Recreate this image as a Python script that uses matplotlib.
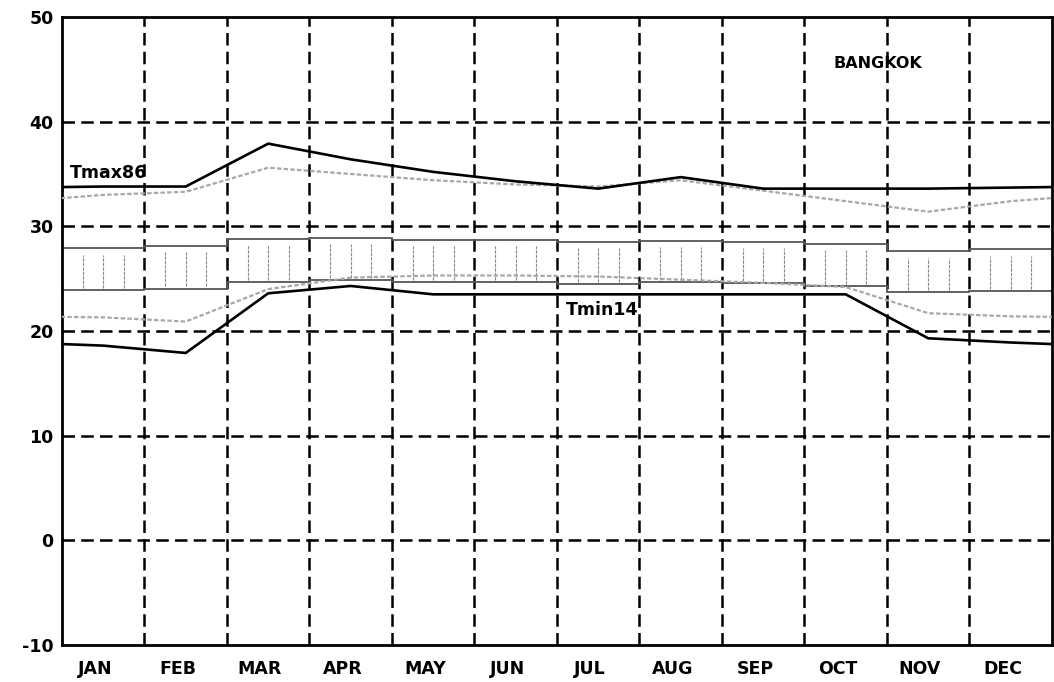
"""
Bangkok monthly temperature chart
"""

import matplotlib.pyplot as plt
import numpy as np

plt.rcParams["axes.unicode_minus"] = False

months = ["JAN", "FEB", "MAR", "APR", "MAY", "JUN",
          "JUL", "AUG", "SEP", "OCT", "NOV", "DEC"]

# black curves
tmax86 = [33.8, 33.8, 37.9, 36.4, 35.2, 34.3, 33.6, 34.7, 33.6, 33.6, 33.6, 33.7]
tmin14 = [18.6, 17.9, 23.6, 24.3, 23.5, 23.5, 23.5, 23.5, 23.5, 23.5, 19.3, 18.9]

# grey curves
grey_upper = [33.0, 33.3, 35.6, 35.0, 34.4, 34.0, 33.8, 34.4, 33.4, 32.4, 31.4, 32.4]
grey_lower = [21.3, 20.9, 24.0, 25.1, 25.3, 25.3, 25.2, 24.9, 24.6, 24.2, 21.7, 21.4]

# hatched band, per month
band_top = [27.9, 28.1, 28.8, 28.9, 28.7, 28.7, 28.5, 28.6, 28.5, 28.3, 27.6, 27.8]
band_bot = [23.9, 24.05, 24.7, 24.9, 24.7, 24.7, 24.5, 24.7, 24.6, 24.3, 23.7, 23.8]


def cyclic(values):
    # wrap Dec/Jan around so the curve runs to both edges
    centers = np.arange(12) + 0.5
    xs = np.r_[-0.5, centers, 12.5]
    ys = np.r_[values[-1], values, values[0]]
    return xs, ys


fig = plt.figure(figsize=(10.54, 6.82), dpi=100)
ax = fig.add_axes([0.0588, 0.0543, 0.9393, 0.9208])

# grid
for y in [0, 10, 20, 30, 40]:
    ax.axhline(y, color="black", lw=1.8, ls=(0, (5, 2.5)), zorder=1)
for m in range(1, 12):
    ax.axvline(m, color="black", lw=1.8, ls=(0, (5, 2.5)), zorder=1)

# band
edges = np.arange(13)
ax.stairs(band_top, edges, color="#555555", lw=1.3, baseline=None, zorder=2)
ax.stairs(band_bot, edges, color="#555555", lw=1.3, baseline=None, zorder=2)
for i in range(12):
    for f in [0.25, 0.5, 0.75]:
        ax.vlines(i + f, band_bot[i] + 0.2, band_top[i] - 0.6,
                  color="#8a8a8a", lw=0.8, ls=(0, (3, 1)), zorder=2)

# grey curves
for vals in [grey_upper, grey_lower]:
    xs, ys = cyclic(vals)
    ax.plot(xs, ys, color="#a8a8a8", lw=1.6, ls=(0, (2, 1)), zorder=3)

# black curves
for vals in [tmax86, tmin14]:
    xs, ys = cyclic(vals)
    ax.plot(xs, ys, color="black", lw=1.9, zorder=4)

ax.text(0.1, 34.2, "Tmax86", fontsize=12.5, fontweight="bold", ha="left", va="bottom")
ax.text(6.11, 22.0, "Tmin14", fontsize=12.5, fontweight="bold", ha="left", va="center")
ax.text(9.35, 45.6, "BANGKOK", fontsize=11.5, fontweight="bold", ha="left", va="center")

ax.set_xlim(0, 12)
ax.set_ylim(-10, 50)
ax.set_yticks(range(-10, 51, 10))
ax.set_xticks(np.arange(12) + 0.4)
ax.set_xticklabels(months)
ax.tick_params(length=0, labelsize=12.5)
ax.tick_params(axis="y", pad=6)
ax.tick_params(axis="x", pad=11)
for lbl in ax.get_xticklabels() + ax.get_yticklabels():
    lbl.set_fontweight("bold")

for s in ax.spines.values():
    s.set_linewidth(2.0)

fig.savefig("out.png", dpi=100)
